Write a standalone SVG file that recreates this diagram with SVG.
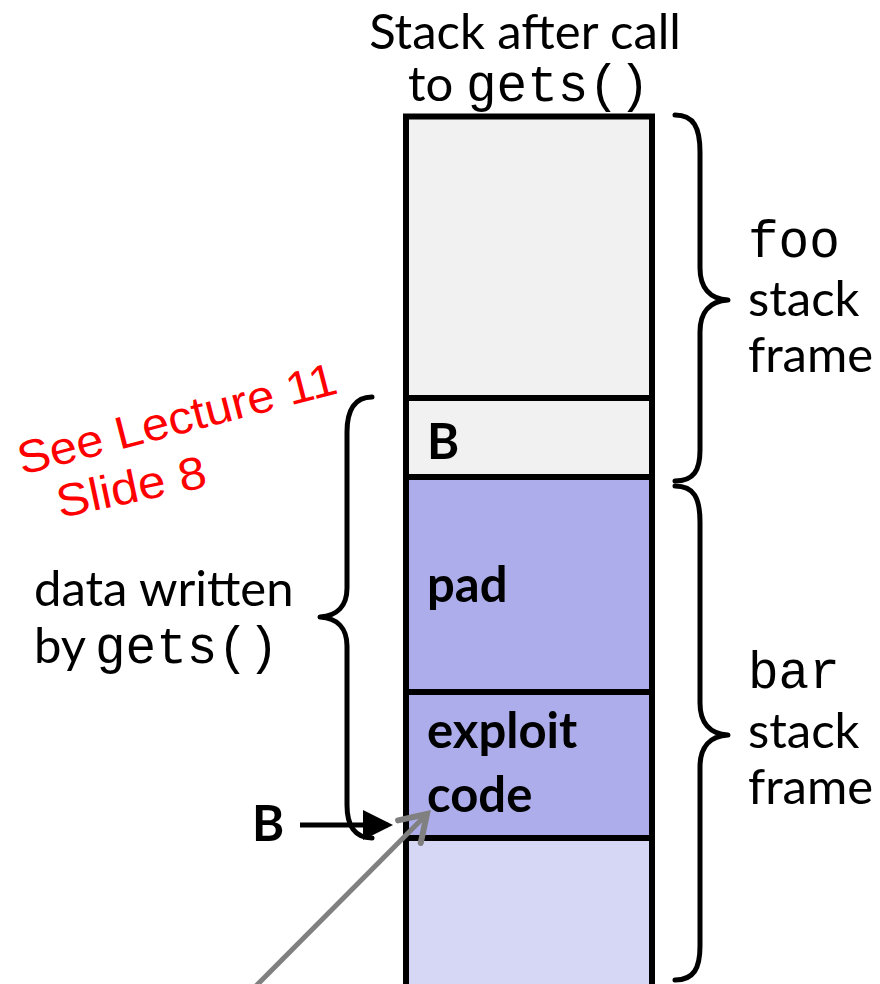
<svg xmlns="http://www.w3.org/2000/svg" width="880" height="984" viewBox="0 0 880 984">
<style>
.t{font-family:Lato,"Liberation Sans",sans-serif;font-size:49px;fill:#000}
.b{font-family:Lato,"Liberation Sans",sans-serif;font-size:49px;font-weight:bold;fill:#000}
.m{font-family:"Liberation Mono","Courier New",monospace;font-size:51px;fill:#000}
.cell{stroke:#000;stroke-width:6}
.br{fill:none;stroke:#000;stroke-width:5;stroke-linecap:round;stroke-linejoin:round}
.hw{font-family:"Liberation Sans",sans-serif;font-size:46px;fill:#ff0000}
</style>
<defs>
<marker id="ah" markerWidth="6" markerHeight="6" refX="5" refY="3" orient="auto" markerUnits="strokeWidth">
<path d="M0,0 L6,3 L0,6 Z" fill="#000"/>
</marker>
<marker id="gh" markerWidth="8" markerHeight="8" refX="6.5" refY="4" orient="auto" markerUnits="strokeWidth">
<path d="M1.5,0.8 L6.5,4 L1.5,7.2" fill="none" stroke="#808080" stroke-width="1.2" stroke-linecap="round" stroke-linejoin="miter"/>
</marker>
</defs>
<rect width="880" height="984" fill="#fff"/>

<g id="title">
<text class="t" x="525" y="49" text-anchor="middle">Stack after call</text>
<text class="t" x="408" y="101">to</text>
<text class="m" x="466" y="101">gets()</text>
</g>

<g id="cell-foo">
<rect class="cell" x="406" y="116.5" width="246" height="281.5" fill="#f1f1f1"/>
</g>
<g id="cell-B">
<rect class="cell" x="406" y="398" width="246" height="79" fill="#f1f1f1"/>
<text class="b" x="427" y="459">B</text>
</g>
<g id="cell-pad">
<rect class="cell" x="406" y="477" width="246" height="215" fill="#adadeb"/>
<text class="b" x="427" y="602">pad</text>
</g>
<g id="cell-exploit">
<rect class="cell" x="406" y="692" width="246" height="146" fill="#adadeb"/>
<text class="b" x="427" y="748">exploit</text>
<text class="b" x="427" y="812">code</text>
</g>
<g id="cell-bottom">
<rect class="cell" x="406" y="838" width="246" height="160" fill="#d6d6f5"/>
</g>

<g id="brace-foo">
<path class="br" d="M675,115 C694,115 700,128 700,152 L700,268 C700,288 710,299 728,300 C710,301 700,312 700,332 L700,450 C700,470 694,481 675,481"/>
<text class="m" x="748" y="257">foo</text>
<text class="t" x="748" y="316">stack</text>
<text class="t" x="748" y="372">frame</text>
</g>

<g id="brace-bar">
<path class="br" d="M675,486 C694,486 700,498 700,522 L700,703 C700,723 710,734 728,735 C710,736 700,747 700,767 L700,946 C700,968 694,980 675,980"/>
<text class="m" x="748" y="688">bar</text>
<text class="t" x="748" y="748">stack</text>
<text class="t" x="748" y="804">frame</text>
</g>

<g id="brace-data">
<path class="br" d="M372,397 C355,397 347,410 347,432 L347,588 C347,606 337,616 320,617 C337,618 347,628 347,646 L347,805 C347,826 355,838 372,838"/>
<text class="t" x="34" y="606">data written</text>
<text class="t" x="34" y="663">by</text>
<text class="m" x="95" y="663">gets()</text>
</g>

<g id="label-B">
<text class="b" x="252" y="841">B</text>
</g>

<g id="connectors">
<line x1="300" y1="825" x2="388" y2="825" stroke="#000" stroke-width="5" marker-end="url(#ah)"/>
<line x1="250" y1="992" x2="427" y2="814" stroke="#808080" stroke-width="5" marker-end="url(#gh)"/>
</g>

<g id="note">
<text class="hw" transform="translate(22,475) rotate(-14.5)" textLength="328" lengthAdjust="spacingAndGlyphs">See Lecture 11</text>
<text class="hw" transform="translate(60,518) rotate(-12)" textLength="152" lengthAdjust="spacingAndGlyphs">Slide 8</text>
</g>
</svg>
